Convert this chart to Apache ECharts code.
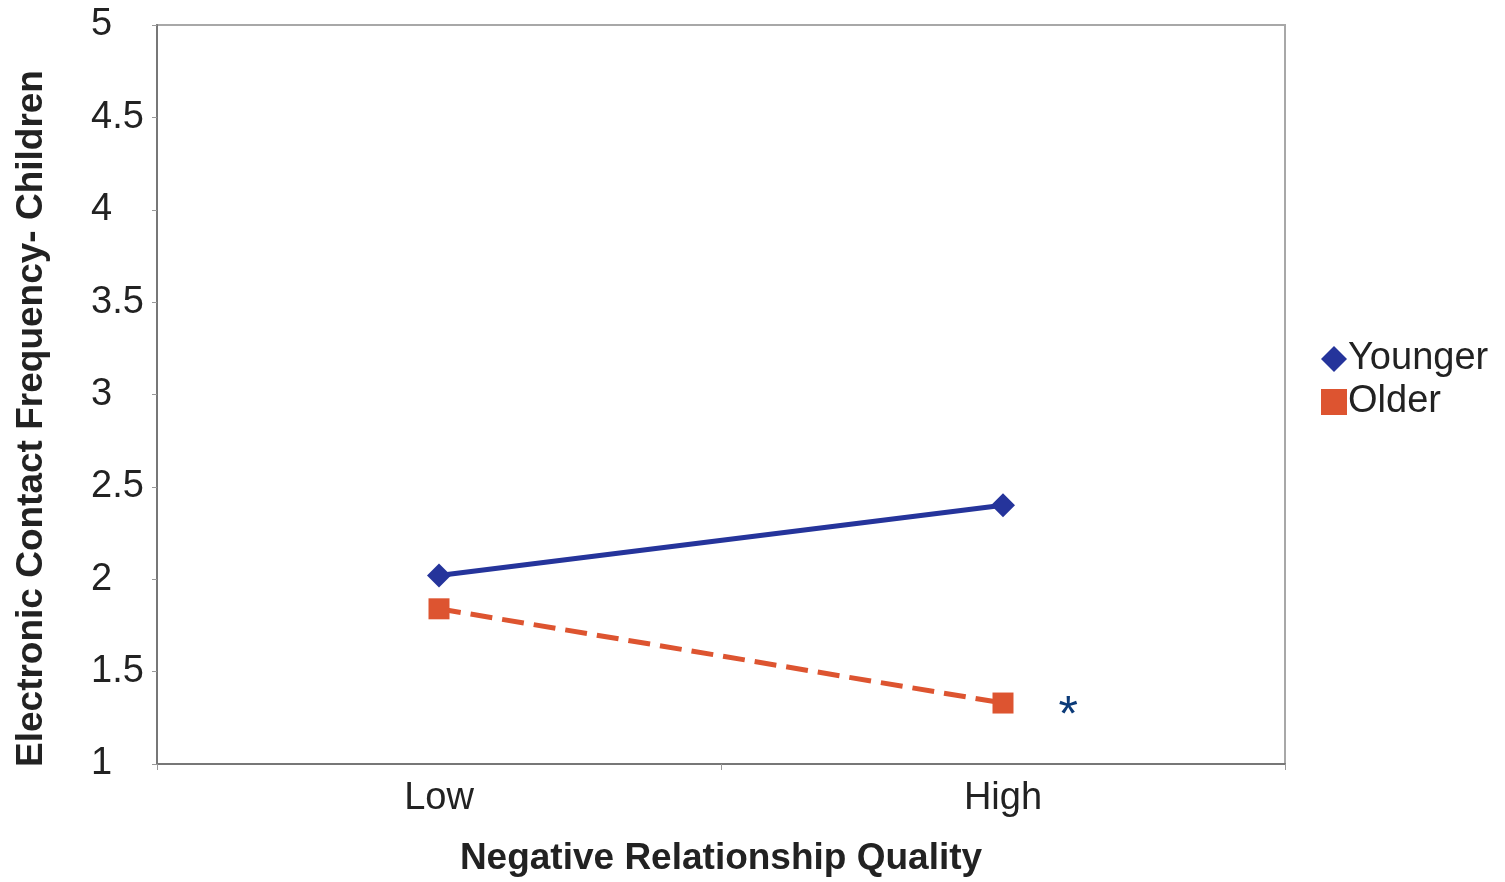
<!DOCTYPE html>
<html>
<head>
<meta charset="utf-8">
<script src="https://cdn.jsdelivr.net/npm/echarts@6/dist/echarts.min.js"></script>
<style>
  html, body { margin: 0; padding: 0; background: #ffffff; }
  #chart { width: 1505px; height: 882px; }
</style>
</head>
<body>
<div id="chart"></div>
<script>
// Electronic contact frequency with children by negative relationship quality
const categories = ['Low', 'High'];
const younger = [2.02, 2.40];
const older = [1.84, 1.33];
const seriesNames = ['Younger', 'Older'];
const olderNote = ['', '*'];

const FONT = '"Liberation Sans", Arial, sans-serif';
const chart = echarts.init(document.getElementById('chart'), null, { renderer: 'canvas' });

chart.setOption({
  backgroundColor: '#ffffff',
  animation: false,
  grid: {
    left: 157, right: 220, top: 25, bottom: 115,
    show: true, borderColor: '#a8a8a8', borderWidth: 2, backgroundColor: 'transparent'
  },
  legend: {
    orient: 'vertical',
    left: 1316, top: 335,
    itemWidth: 26, itemHeight: 26,
    itemGap: 5,
    textStyle: { fontFamily: FONT, fontSize: 38, color: '#222222', padding: [0, 0, 0, -4] },
    data: [
      { name: seriesNames[0], icon: 'diamond', itemStyle: { color: '#25349b' } },
      { name: seriesNames[1], icon: 'rect', itemStyle: { color: '#dd5430' } }
    ]
  },
  xAxis: {
    type: 'category',
    data: categories,
    boundaryGap: true,
    name: 'Negative Relationship Quality',
    nameLocation: 'middle',
    nameGap: 76,
    nameTextStyle: { fontFamily: FONT, fontSize: 37, fontWeight: 'bold', color: '#222222' },
    axisLine: { lineStyle: { color: '#777777', width: 2 } },
    axisTick: { show: true, length: 6, lineStyle: { color: '#999999', width: 1 } },
    axisLabel: { fontFamily: FONT, fontSize: 38, color: '#222222', margin: 16 },
    splitLine: { show: false }
  },
  yAxis: {
    type: 'value',
    min: 1, max: 5, interval: 0.5,
    name: 'Electronic Contact Frequency- Children',
    nameLocation: 'middle',
    nameGap: 107,
    nameTextStyle: { fontFamily: FONT, fontSize: 37, fontWeight: 'bold', color: '#222222', padding: [0, 48, 0, 0] },
    axisLine: { show: true, lineStyle: { color: '#777777', width: 2 } },
    axisTick: { show: true, length: 5, lineStyle: { color: '#999999', width: 1 } },
    axisLabel: { fontFamily: FONT, fontSize: 38, color: '#222222', margin: 66, align: 'left' },
    splitLine: { show: false }
  },
  series: [
    {
      name: seriesNames[0],
      type: 'line',
      data: younger,
      symbol: 'diamond',
      symbolSize: 24,
      lineStyle: { color: '#25349b', width: 5 },
      itemStyle: { color: '#25349b' },
      z: 3
    },
    {
      name: seriesNames[1],
      type: 'line',
      data: older.map((v, i) => ({
        value: v,
        label: olderNote[i] ? {
          show: true,
          formatter: olderNote[i],
          position: 'right',
          distance: 45,
          offset: [0, 14],
          fontFamily: FONT,
          fontSize: 50,
          color: '#0b3a78'
        } : { show: false }
      })),
      symbol: 'rect',
      symbolSize: 21,
      lineStyle: { color: '#dd5430', width: 5, type: [22, 10] },
      itemStyle: { color: '#dd5430' },
      z: 2
    }
  ]
});
</script>
</body>
</html>
